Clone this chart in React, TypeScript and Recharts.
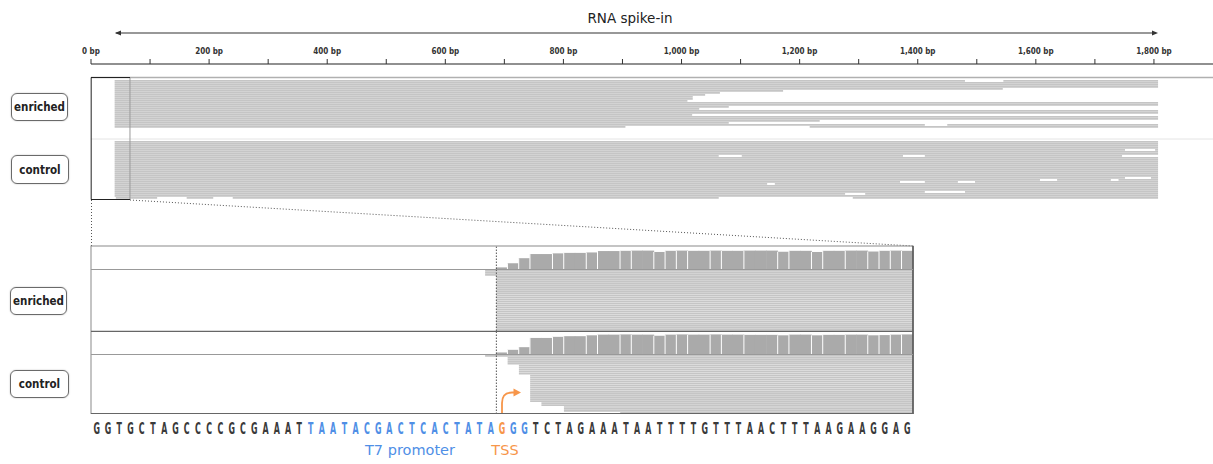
import React from 'react';
import {
  ComposedChart,
  BarChart,
  Bar,
  XAxis,
  YAxis,
  ReferenceArea,
  ReferenceLine,
} from 'recharts';

// ---- overview track (bp) ----
const OVERVIEW_DOMAIN: [number, number] = [0, 1900];
const OVERVIEW_TICKS = [0, 100, 200, 300, 400, 500, 600, 700, 800, 900, 1000, 1100, 1200, 1300, 1400, 1500, 1600, 1700, 1800];
const SPIKE_IN: [number, number] = [42, 1803];
const ZOOM_WINDOW: [number, number] = [0, 66];

// read lanes, top to bottom, each a list of [start, end] in bp
const ENRICHED_OVERVIEW: [number, number][][] = [
  [[40, 1480], [1545, 1807]],
  [[40, 1807]],
  [[40, 1807]],
  [[40, 1807]],
  [[40, 1544]],
  [[40, 1172]],
  [[40, 1065]],
  [[40, 1040]],
  [[40, 1019]],
  [[40, 1019]],
  [[40, 1010]],
  [[40, 1807]],
  [[40, 1807]],
  [[40, 1080]],
  [[40, 1030]],
  [[40, 1807]],
  [[40, 1807]],
  [[40, 1018]],
  [[40, 1807]],
  [[40, 1807]],
  [[40, 1234]],
  [[40, 1080]],
  [[40, 1412], [1450, 1807]],
  [[40, 905], [1217, 1807]],
];

const CONTROL_OVERVIEW: [number, number][][] = [
  [[40, 1807]],
  [[40, 1807]],
  [[40, 1807]],
  [[40, 1807]],
  [[40, 1751], [1802, 1807]],
  [[40, 1807]],
  [[40, 1807]],
  [[40, 1063], [1102, 1375], [1412, 1746]],
  [[40, 1807]],
  [[40, 1807]],
  [[40, 1807]],
  [[40, 1807]],
  [[40, 1807]],
  [[40, 1807]],
  [[40, 1807]],
  [[40, 1807]],
  [[40, 1807]],
  [[40, 1807]],
  [[40, 1751], [1795, 1807]],
  [[40, 1607], [1636, 1727], [1740, 1807]],
  [[40, 1370], [1412, 1468], [1497, 1807]],
  [[40, 1145], [1158, 1807]],
  [[40, 1807]],
  [[40, 1807]],
  [[40, 1807]],
  [[40, 1412], [1480, 1807]],
  [[40, 1277], [1311, 1807]],
  [[40, 1807]],
  [[42, 112], [162, 207], [240, 1063], [1290, 1807]],
];

// ---- zoomed track (bases) ----
const SEQUENCE = 'GGTGCTAGCCCCGCGAAATTAATACGACTCACTATAGGGTCTAGAAATAATTTTGTTTAACTTTAAGAAGGAG'.split('');
const PROMOTER: [number, number] = [19, 39];
const TSS = 36;

const ENRICHED_COVERAGE = [
  0, 0, 0, 0, 0, 0, 0, 0, 0, 0, 0, 0, 0, 0, 0, 0, 0, 0,
  0, 0, 0, 0, 0, 0, 0, 0, 0, 0, 0, 0, 0, 0, 0, 0, 0, 0,
  7, 25, 47, 65, 65, 68, 70, 70, 72, 78, 78, 79, 80, 80, 74, 79, 80, 79, 79,
  80, 79, 79, 80, 80, 80, 75, 79, 79, 74, 79, 79, 80, 80, 76, 79, 80, 79,
];

const CONTROL_COVERAGE = [
  0, 0, 0, 0, 0, 0, 0, 0, 0, 0, 0, 0, 0, 0, 0, 0, 0, 0,
  0, 0, 0, 0, 0, 0, 0, 0, 0, 0, 0, 0, 0, 0, 0, 0, 0, 0,
  7, 19, 31, 73, 73, 78, 81, 81, 85, 88, 88, 89, 88, 88, 83, 88, 89, 88, 88,
  89, 88, 88, 87, 87, 87, 85, 88, 88, 85, 87, 87, 88, 88, 85, 86, 88, 89,
];

// first base of the read in each lane; every read runs past the window end
const ENRICHED_READ_STARTS = [
  35, 35, 35, 36, 36, 36, 36, 36, 36, 36, 36, 36, 36, 36, 36,
  36, 36, 36, 36, 36, 36, 36, 36, 36, 36, 36, 36, 36, 36, 36,
];
const CONTROL_READ_STARTS = [
  35, 37, 37, 37, 37, 38, 38, 38, 38, 38, 39, 39, 39, 39, 39,
  39, 39, 39, 39, 39, 39, 39, 39, 39, 40, 40, 42, 42, 42, 47,
];

const READ_FILL = '#c5c5c5';
const COVERAGE_FILL = '#aaaaaa';
const BLUE = '#4f8fe6';
const ORANGE = '#f7964a';

const coverageRows = SEQUENCE.map((base, i) => ({
  pos: i,
  base,
  enriched: ENRICHED_COVERAGE[i],
  control: CONTROL_COVERAGE[i],
}));

const OverviewTick = (props: any) => {
  const { x, y, payload } = props;
  if (payload.value % 200 !== 0) return <g />;
  return (
    <text
      x={x}
      y={y - 2}
      textAnchor="middle"
      fontFamily="DejaVu Sans Condensed"
      fontWeight="bold"
      fontSize={8}
      fill="#333"
    >
      {`${payload.value.toLocaleString('en-US')} bp`}
    </text>
  );
};

const BaseTick = (props: any) => {
  const { x, y, payload } = props;
  const i = Math.floor(payload.value);
  const color =
    i === TSS ? ORANGE : i >= PROMOTER[0] && i < PROMOTER[1] ? BLUE : '#3a3a3a';
  return (
    <text
      transform={`translate(${x},${y + 12}) scale(0.8,1.4)`}
      textAnchor="middle"
      fontFamily="DejaVu Sans Condensed"
      fontWeight="bold"
      fontSize={11}
      fill={color}
    >
      {SEQUENCE[i]}
    </text>
  );
};

// coverage bar, widened to close the rounding gap between bases,
// with a white edge wherever the depth changes
const coverageShape = (key: 'enriched' | 'control') => (props: any) => {
  const { x, y, width, height, index, fill } = props;
  const cur = coverageRows[index][key];
  const prev = index > 0 ? coverageRows[index - 1][key] : 0;
  return (
    <g>
      <rect x={x - 0.4} y={y} width={width + 0.8} height={height} fill={fill} />
      {prev > 0 && prev !== cur && (
        <line x1={x - 0.2} x2={x - 0.2} y1={y} y2={y + height} stroke="#fff" strokeWidth={1} />
      )}
    </g>
  );
};

const laneAreas = (lanes: [number, number][][], offset: number, key: string) =>
  lanes.flatMap((segs, lane) =>
    segs.map(([start, end], k) => (
      <ReferenceArea
        key={`${key}-${lane}-${k}`}
        x1={start}
        x2={end}
        y1={offset + lane}
        y2={offset + lane + 0.88}
        fill={READ_FILL}
        fillOpacity={1}
        stroke="none"
        ifOverflow="visible"
      />
    ))
  );

const LabelBox = ({ text, left, top, width, height }: any) => (
  <div
    style={{
      position: 'absolute',
      left,
      top,
      width,
      height,
      boxSizing: 'border-box',
      border: '1px solid #6a6a6a',
      borderRadius: 6,
      boxShadow: '0 0 1.5px #aaa',
      display: 'flex',
      alignItems: 'center',
      justifyContent: 'center',
      fontFamily: 'DejaVu Sans Condensed',
      fontWeight: 'bold',
      fontSize: 11.5,
      color: '#222',
    }}
  >
    {text}
  </div>
);

const ZOOM_W = 914;
const ZOOM_MARGIN = { top: 0, right: 1, bottom: 0, left: 91 };

function CoverageTrack({ top, height, dataKey }: { top: number; height: number; dataKey: 'enriched' | 'control' }) {
  return (
    <div style={{ position: 'absolute', left: 0, top }}>
      <BarChart
        width={ZOOM_W}
        height={height}
        data={coverageRows}
        margin={ZOOM_MARGIN}
        barCategoryGap={0}
        barGap={0}
      >
        <XAxis dataKey="pos" type="category" hide />
        <YAxis type="number" domain={[0, 100]} hide />
        <Bar
          dataKey={dataKey}
          fill={COVERAGE_FILL}
          isAnimationActive={false}
          shape={coverageShape(dataKey)}
        />
        <ReferenceLine x={TSS} position="start" stroke="#555" strokeDasharray="1.5 1.5" />
      </BarChart>
    </div>
  );
}

function ReadTrack({
  top,
  height,
  starts,
  showSequence,
}: {
  top: number;
  height: number;
  starts: number[];
  showSequence?: boolean;
}) {
  const lanes = starts.map((s) => [[s, SEQUENCE.length]] as [number, number][]);
  return (
    <div style={{ position: 'absolute', left: 0, top }}>
      <ComposedChart width={ZOOM_W} height={height + (showSequence ? 30 : 0)} margin={ZOOM_MARGIN}>
        <XAxis
          type="number"
          dataKey="pos"
          domain={[0, SEQUENCE.length]}
          ticks={SEQUENCE.map((_, i) => i + 0.5)}
          interval={0}
          hide={!showSequence}
          height={30}
          axisLine={false}
          tickLine={false}
          tick={(p: any) => <BaseTick {...p} />}
          allowDataOverflow
        />
        <YAxis type="number" domain={[0, 30]} reversed hide allowDataOverflow />
        {laneAreas(lanes, 0, 'r')}
        <ReferenceLine x={TSS} stroke="#555" strokeDasharray="1.5 1.5" ifOverflow="visible" />
      </ComposedChart>
    </div>
  );
}

export default function App() {
  return (
    <div
      style={{
        position: 'absolute',
        left: 0,
        top: 0,
        width: 1213,
        height: 464,
        background: '#fff',
        overflow: 'hidden',
        fontFamily: 'DejaVu Sans',
      }}
    >
      {/* title and span arrow */}
      <div
        style={{
          position: 'absolute',
          left: 530,
          width: 200,
          top: 10,
          textAlign: 'center',
          fontSize: 13.5,
          color: '#222',
        }}
      >
        RNA spike-in
      </div>

      {/* overview: ruler + pileups */}
      <div style={{ position: 'absolute', left: 0, top: 0 }}>
        <ComposedChart width={1213} height={200} margin={{ top: 34, right: 0, bottom: 0, left: 91 }}>
          <XAxis
            type="number"
            dataKey="bp"
            domain={OVERVIEW_DOMAIN}
            orientation="top"
            ticks={OVERVIEW_TICKS}
            interval={0}
            height={30}
            tickSize={5}
            tickMargin={3}
            axisLine={{ stroke: '#222', strokeWidth: 1.2 }}
            tickLine={{ stroke: '#333' }}
            tick={(p: any) => <OverviewTick {...p} />}
            allowDataOverflow
          />
          <YAxis type="number" domain={[0, 68]} reversed hide allowDataOverflow />
          {laneAreas(ENRICHED_OVERVIEW, 8, 'e')}
          {laneAreas(CONTROL_OVERVIEW, 38.5, 'c')}
          <ReferenceLine
            segment={[{ x: SPIKE_IN[0], y: -15.5 }, { x: SPIKE_IN[1], y: -15.5 }]}
            stroke="#333"
            strokeWidth={1.2}
            ifOverflow="visible"
          />
          <ReferenceLine y={6.75} stroke="#b0b0b0" strokeWidth={1.5} />
          <ReferenceLine y={37.5} stroke="#e4e4e4" />
          <ReferenceLine
            segment={[{ x: ZOOM_WINDOW[1], y: 6.75 }, { x: ZOOM_WINDOW[1], y: 67.75 }]}
            stroke="#9a9a9a"
          />
          <ReferenceLine
            segment={[{ x: ZOOM_WINDOW[0], y: 6.75 }, { x: ZOOM_WINDOW[1], y: 6.75 }]}
            stroke="#222"
          />
          <ReferenceLine
            segment={[{ x: ZOOM_WINDOW[0], y: 67.75 }, { x: ZOOM_WINDOW[1], y: 67.75 }]}
            stroke="#222"
          />
          <ReferenceLine
            segment={[{ x: 0.3, y: 6.75 }, { x: 0.3, y: 67.75 }]}
            stroke="#222"
          />
        </ComposedChart>
      </div>

      {/* arrowheads of the span */}
      <svg style={{ position: 'absolute', left: 0, top: 0 }} width={1213} height={464}>
        <polygon points="115,33 121,30.5 121,35.5" fill="#333" />
        <polygon points="1158,33 1152,30.5 1152,35.5" fill="#333" />
        {/* zoom connectors */}
        <line x1={91.5} y1={200} x2={91.5} y2={246} stroke="#555" strokeDasharray="1 2" />
        <line x1={130} y1={200} x2={913} y2={246} stroke="#555" strokeDasharray="1 2" />
      </svg>

      <LabelBox text="enriched" left={11} top={93} width={57} height={28} />
      <LabelBox text="control" left={11} top={155} width={58} height={29} />
      <LabelBox text="enriched" left={10} top={287} width={57} height={28} />
      <LabelBox text="control" left={10} top={370} width={59} height={28} />

      {/* zoomed window */}
      <CoverageTrack top={246} height={23} dataKey="enriched" />
      <ReadTrack top={270} height={61} starts={ENRICHED_READ_STARTS} />
      <CoverageTrack top={332} height={22} dataKey="control" />
      <ReadTrack top={355} height={59} starts={CONTROL_READ_STARTS} showSequence />

      <svg style={{ position: 'absolute', left: 0, top: 0, pointerEvents: 'none' }} width={1213} height={464}>
        <rect x={91} y={246} width={822} height={167.5} fill="none" stroke="#8a8a8a" />
        <line x1={913} y1={246} x2={913} y2={414} stroke="#555" strokeWidth={1.5} />
        <line x1={91} y1={269.5} x2={913} y2={269.5} stroke="#999" />
        <line x1={91} y1={331.3} x2={913} y2={331.3} stroke="#666" strokeWidth={1.3} />
        <line x1={91} y1={354.5} x2={913} y2={354.5} stroke="#999" />
        <line x1={91} y1={413.5} x2={913} y2={413.5} stroke="#666" />
        <path
          d="M502 413 L502 403 Q502 392.5 512 392.5 L515 392.5"
          fill="none"
          stroke={ORANGE}
          strokeWidth={1.8}
        />
        <polygon points="513.5,388.5 521,392.5 513.5,396.5" fill={ORANGE} />
      </svg>

      <div
        style={{
          position: 'absolute',
          left: 340,
          width: 140,
          top: 442,
          textAlign: 'center',
          fontSize: 14.5,
          color: BLUE,
        }}
      >
        T7 promoter
      </div>
      <div
        style={{
          position: 'absolute',
          left: 475,
          width: 60,
          top: 442,
          textAlign: 'center',
          fontSize: 14.5,
          color: ORANGE,
        }}
      >
        TSS
      </div>
    </div>
  );
}
